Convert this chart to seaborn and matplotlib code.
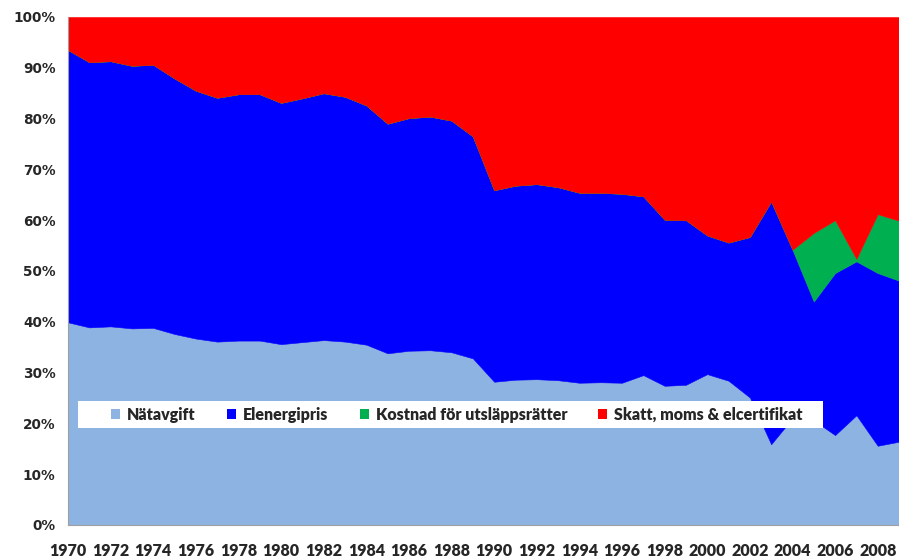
import numpy as np
import pandas as pd
import matplotlib
matplotlib.use("Agg")
import matplotlib.pyplot as plt
import seaborn as sns
from matplotlib.patches import Patch, Rectangle

# ---------------------------------------------------------------------------
# Data: share of the electricity price (%)
# ---------------------------------------------------------------------------
years = list(range(1970, 2010))

natavgift = [39.9, 38.9, 39.1, 38.7, 38.8, 37.6, 36.7, 36.1, 36.3, 36.3,
             35.6, 36.0, 36.4, 36.1, 35.5, 33.8, 34.3, 34.4, 34.0, 32.8,
             28.2, 28.6, 28.7, 28.5, 28.0, 28.1, 28.0, 29.5, 27.4, 27.6,
             29.7, 28.4, 25.1, 15.9, 21.0, 20.6, 17.7, 21.6, 15.6, 16.4]

elenergipris = [53.6, 52.2, 52.2, 51.7, 51.8, 50.3, 48.8, 48.0, 48.5, 48.5,
                47.5, 48.0, 48.6, 48.2, 47.1, 45.2, 45.8, 46.0, 45.6, 43.7,
                37.7, 38.2, 38.4, 38.0, 37.4, 37.3, 37.2, 35.2, 32.7, 32.4,
                27.3, 27.2, 31.6, 47.8, 33.2, 23.4, 31.9, 30.3, 34.0, 31.7]

utslapp = [0.0] * 34 + [0.0, 13.5, 10.4, 0.5, 11.6, 11.8]

skatt = [6.5, 8.9, 8.7, 9.6, 9.4, 12.1, 14.5, 15.9, 15.2, 15.2,
         16.9, 16.0, 15.0, 15.7, 17.4, 21.0, 19.9, 19.6, 20.4, 23.5,
         34.1, 33.2, 32.9, 33.5, 34.6, 34.6, 34.8, 35.3, 39.9, 40.0,
         43.0, 44.4, 43.3, 36.3, 45.8, 42.5, 40.0, 47.6, 38.8, 40.1]

labels = ["Nätavgift", "Elenergipris", "Kostnad för utsläppsrätter",
          "Skatt, moms & elcertifikat"]
colors = ["#8DB3E2", "#0000FF", "#00B050", "#FF0000"]

df = pd.DataFrame({"År": years, labels[0]: natavgift, labels[1]: elenergipris,
                   labels[2]: utslapp, labels[3]: skatt})

# ---------------------------------------------------------------------------
# Plot
# ---------------------------------------------------------------------------
sns.set_style("white")
plt.rcParams["font.family"] = ["Lato", "DejaVu Sans"]

W, H = 899, 559
fig = plt.figure(figsize=(W / 100, H / 100), dpi=100)
ax = fig.add_axes([68 / W, 34 / H, 831 / W, 508 / H])

ax.stackplot(df["År"], [df[c] for c in labels], colors=colors,
             edgecolor="face", linewidth=0.4)

ax.set_xlim(1970, 2009)
ax.set_ylim(0, 100)
ax.set_xticks(range(1970, 2009, 2))
ax.set_xticklabels([str(y) for y in range(1970, 2009, 2)],
                   fontsize=11.5, fontweight="heavy")
ax.set_yticks(range(0, 101, 10))
ax.set_yticklabels([f"{v}%" for v in range(0, 101, 10)],
                   fontsize=9.8, fontweight="bold", family="DejaVu Sans")

for side in ["top", "right"]:
    ax.spines[side].set_visible(False)
for side in ["left", "bottom"]:
    ax.spines[side].set_color("#A0A0A0")
    ax.spines[side].set_linewidth(0.8)
ax.tick_params(axis="both", direction="out", length=4, width=0.8,
               color="#A0A0A0")
ax.tick_params(axis="y", pad=5)
ax.tick_params(axis="x", pad=9)

# white legend box, wider than the entries themselves
ax.add_patch(Rectangle((78 / W, 1 - 428 / H), 745 / W, 27 / H,
                       transform=fig.transFigure, facecolor="white",
                       edgecolor="none", zorder=4, clip_on=False))

handles = [Patch(facecolor=c, edgecolor="none") for c in colors]
leg = ax.legend(handles, labels, ncol=4, loc="center",
                bbox_to_anchor=(457 / W, 1 - 415 / H),
                bbox_transform=fig.transFigure, frameon=False,
                prop={"family": "Lato", "weight": "heavy", "size": 11.5},
                handlelength=0.56, handleheight=0.56, handletextpad=0.45,
                columnspacing=1.95, borderpad=0, borderaxespad=0)
leg.set_zorder(5)

fig.savefig("out.png", dpi=100)
